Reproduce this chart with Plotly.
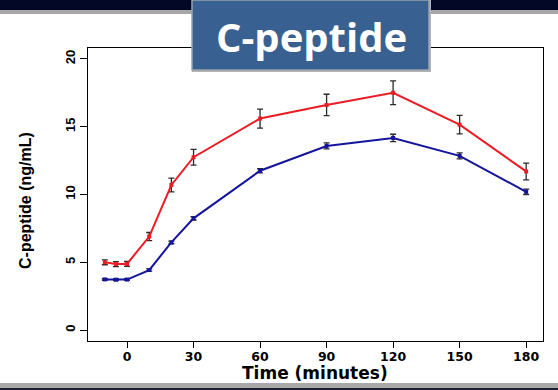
import plotly.graph_objects as go

# Sampling times (minutes) and mean C-peptide (ng/mL) with standard errors
time_min = [-10, -5, 0, 10, 20, 30, 60, 90, 120, 150, 180]

red_mean = [5.0, 4.87, 4.88, 6.9, 10.7, 12.75, 15.6, 16.6, 17.5, 15.15, 11.7]
red_se = [0.18, 0.18, 0.18, 0.3, 0.5, 0.58, 0.7, 0.79, 0.87, 0.68, 0.62]

blue_mean = [3.74, 3.72, 3.73, 4.43, 6.47, 8.24, 11.75, 13.58, 14.17, 12.85, 10.2]
blue_se = [0.06, 0.06, 0.06, 0.08, 0.1, 0.12, 0.15, 0.22, 0.27, 0.22, 0.2]

x_ticks = [0, 30, 60, 90, 120, 150, 180]
y_ticks = [0, 5, 10, 15, 20]

W, H = 558, 390
ML, MR, MT, MB = 88, 15, 48, 49
PW, PH = W - ML - MR, H - MT - MB


def px(x):
    return (x - ML) / PW


def py(y):
    return 1 - (y - MT) / PH


fig = go.Figure()

for mean, se, color in [(blue_mean, blue_se, "#14149c"), (red_mean, red_se, "#ec1c24")]:
    fig.add_trace(go.Scatter(
        x=time_min, y=mean, mode="lines+markers",
        line=dict(color=color, width=2),
        marker=dict(color=color, size=4, symbol="square"),
        error_y=dict(type="data", array=se, visible=True,
                     color="#2a2a2a", thickness=1.3, width=3),
        showlegend=False, cliponaxis=False,
    ))

fig.update_xaxes(
    range=[-17.6, 187.6], tickvals=x_ticks, ticktext=[str(v) for v in x_ticks],
    showgrid=False, zeroline=False, showline=True, mirror=True, automargin=False,
    linecolor="#000", linewidth=1.2, ticks="outside", ticklen=6, tickwidth=1.2,
    tickcolor="#000", ticklabelstandoff=-2,
    tickfont=dict(family="DejaVu Sans, sans-serif", size=12.5, weight="bold", color="#000"),
)
fig.update_yaxes(
    range=[-0.8, 20.8], tickvals=y_ticks, ticktext=[str(v) for v in y_ticks],
    showgrid=False, zeroline=False, showline=True, mirror=True, automargin=False,
    linecolor="#000", linewidth=1.2, ticks="outside", ticklen=7, tickwidth=1.2,
    tickcolor="#000", tickangle=-90,
    tickfont=dict(family="Liberation Sans, Arial, sans-serif", size=13, weight="bold", color="#000"),
)

# axis titles
fig.add_annotation(
    x=px(315), y=py(373), xref="paper", yref="paper", xanchor="center", yanchor="middle",
    text="Time (minutes)", showarrow=False, height=18, borderpad=0,
    font=dict(family="DejaVu Sans, sans-serif", size=17, weight="bold", color="#000"),
)
fig.add_annotation(
    x=px(25), y=py(201), xref="paper", yref="paper", xanchor="center", yanchor="middle",
    text="C-peptide (ng/mL)", showarrow=False, textangle=-90,
    font=dict(family="Liberation Sans, Arial, sans-serif", size=16, weight="bold", color="#000"),
)

shapes = [
    # dark banner strip and grey rule along the top edge
    dict(type="rect", xref="paper", yref="paper", x0=px(0), x1=px(W), y0=py(10), y1=py(0),
         fillcolor="#020826", line=dict(width=0), layer="above"),
    dict(type="rect", xref="paper", yref="paper", x0=px(0), x1=px(W), y0=py(14), y1=py(10),
         fillcolor="#a6a6a6", line=dict(width=0), layer="above"),
    # grey rule and dark strip along the bottom edge
    dict(type="rect", xref="paper", yref="paper", x0=px(0), x1=px(W), y0=py(388), y1=py(383),
         fillcolor="#a9a9a9", line=dict(width=0), layer="above"),
    dict(type="rect", xref="paper", yref="paper", x0=px(0), x1=px(W), y0=py(H), y1=py(388),
         fillcolor="#1c2233", line=dict(width=0), layer="above"),
    # title panel shadow and panel
    dict(type="rect", xref="paper", yref="paper", x0=px(192), x1=px(431), y0=py(72), y1=py(0),
         fillcolor="#b4b4b4", line=dict(width=0), layer="above"),
    dict(type="rect", xref="paper", yref="paper", x0=px(192), x1=px(429), y0=py(70), y1=py(0),
         fillcolor="#386192", line=dict(color="#9aa3ad", width=1.5), layer="above"),
]

fig.add_annotation(
    x=px(311), y=py(36), xref="paper", yref="paper", xanchor="center", yanchor="middle",
    text="C-peptide", showarrow=False,
    font=dict(family="Open Sans, sans-serif", size=40, weight="bold", color="#ffffff"),
)

fig.update_layout(
    width=W, height=H,
    margin=dict(l=ML, r=MR, t=MT, b=MB),
    paper_bgcolor="#ffffff", plot_bgcolor="#ffffff",
    shapes=shapes,
)

fig.write_html("out.html")
